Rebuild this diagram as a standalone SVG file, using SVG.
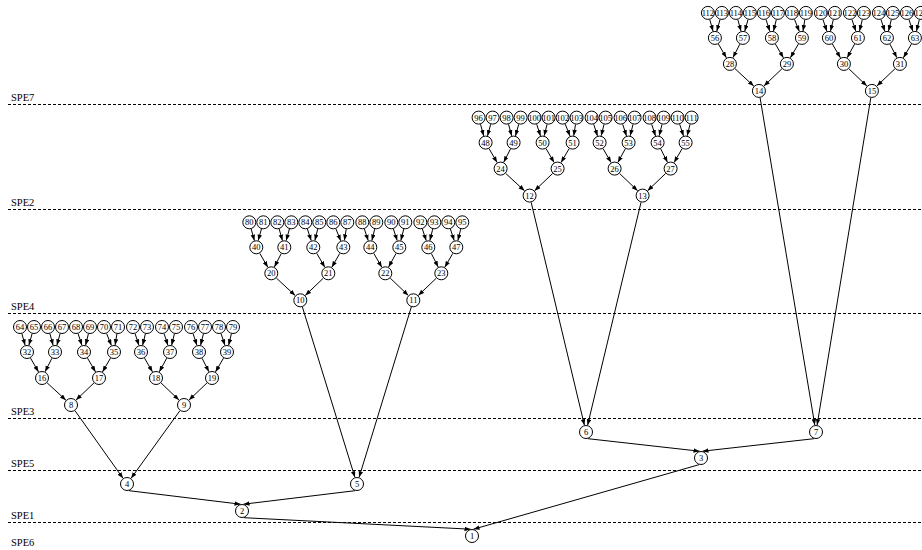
<svg xmlns="http://www.w3.org/2000/svg" width="922" height="550" viewBox="0 0 922 550">
<defs>
<marker id="ah" markerUnits="userSpaceOnUse" markerWidth="6" markerHeight="5" refX="6" refY="2.25" orient="auto"><path d="M0,0 L6,2.25 L0,4.5 z" fill="#000"/></marker>
<style>
.n circle{fill:#fff;stroke:#000;stroke-width:1}
.n text{font-family:"Liberation Serif",serif;font-size:8.5px;text-anchor:middle;fill:#000}
.e line{stroke:#000;stroke-width:1;marker-end:url(#ah)}
.sep line{stroke:#000;stroke-width:1;stroke-dasharray:3,2}
.lbl{font-family:"Liberation Serif",serif;font-size:10.5px;fill:#000}
</style>
</defs>
<rect width="922" height="550" fill="#fff"/>
<g class="sep">
<line x1="8" y1="104.5" x2="922" y2="104.5"/>
<line x1="8" y1="209.5" x2="922" y2="209.5"/>
<line x1="8" y1="313.5" x2="922" y2="313.5"/>
<line x1="8" y1="418.5" x2="922" y2="418.5"/>
<line x1="8" y1="470.5" x2="922" y2="470.5"/>
<line x1="8" y1="522.5" x2="922" y2="522.5"/>
</g>
<g id="labels">
<text class="lbl" x="11" y="101">SPE7</text>
<text class="lbl" x="11" y="206">SPE2</text>
<text class="lbl" x="11" y="310">SPE4</text>
<text class="lbl" x="11" y="415">SPE3</text>
<text class="lbl" x="11" y="467">SPE5</text>
<text class="lbl" x="11" y="519">SPE1</text>
<text class="lbl" x="11" y="546">SPE6</text>
</g>
<g id="connectors" class="e">
<g id="cl0">
<line x1="21.9" y1="333.7" x2="25.1" y2="345.3"/>
<line x1="32.1" y1="333.7" x2="28.9" y2="345.3"/>
<line x1="49.9" y1="333.7" x2="53.1" y2="345.3"/>
<line x1="60.1" y1="333.7" x2="56.9" y2="345.3"/>
<line x1="78.1" y1="333.7" x2="81.9" y2="345.3"/>
<line x1="88.4" y1="333.8" x2="85.6" y2="345.2"/>
<line x1="106.6" y1="333.5" x2="111.4" y2="345.5"/>
<line x1="116.9" y1="333.9" x2="115.1" y2="345.1"/>
<line x1="135.1" y1="333.7" x2="138.9" y2="345.3"/>
<line x1="145.4" y1="333.8" x2="142.6" y2="345.2"/>
<line x1="164.1" y1="333.7" x2="167.9" y2="345.3"/>
<line x1="174.4" y1="333.8" x2="171.6" y2="345.2"/>
<line x1="193.1" y1="333.7" x2="196.9" y2="345.3"/>
<line x1="203.4" y1="333.8" x2="200.6" y2="345.2"/>
<line x1="221.1" y1="333.7" x2="224.9" y2="345.3"/>
<line x1="231.4" y1="333.8" x2="228.6" y2="345.2"/>
<line x1="30.5" y1="358.1" x2="38.5" y2="371.9"/>
<line x1="51.9" y1="358.3" x2="45.1" y2="371.7"/>
<line x1="87.5" y1="358.1" x2="95.5" y2="371.9"/>
<line x1="110.5" y1="358.1" x2="102.5" y2="371.9"/>
<line x1="144.5" y1="358.1" x2="152.5" y2="371.9"/>
<line x1="166.7" y1="358.2" x2="159.3" y2="371.8"/>
<line x1="202.1" y1="358.3" x2="208.9" y2="371.7"/>
<line x1="223.5" y1="358.1" x2="215.5" y2="371.9"/>
<line x1="47.1" y1="382.8" x2="65.9" y2="400.2"/>
<line x1="94" y1="382.9" x2="76" y2="400.1"/>
<line x1="161" y1="382.9" x2="179" y2="400.1"/>
<line x1="207" y1="382.9" x2="189" y2="400.1"/>
</g>
<g id="cl1" transform="translate(229.3,-104.7)">
<line x1="21.9" y1="333.7" x2="25.1" y2="345.3"/>
<line x1="32.1" y1="333.7" x2="28.9" y2="345.3"/>
<line x1="49.9" y1="333.7" x2="53.1" y2="345.3"/>
<line x1="60.1" y1="333.7" x2="56.9" y2="345.3"/>
<line x1="78.1" y1="333.7" x2="81.9" y2="345.3"/>
<line x1="88.4" y1="333.8" x2="85.6" y2="345.2"/>
<line x1="106.6" y1="333.5" x2="111.4" y2="345.5"/>
<line x1="116.9" y1="333.9" x2="115.1" y2="345.1"/>
<line x1="135.1" y1="333.7" x2="138.9" y2="345.3"/>
<line x1="145.4" y1="333.8" x2="142.6" y2="345.2"/>
<line x1="164.1" y1="333.7" x2="167.9" y2="345.3"/>
<line x1="174.4" y1="333.8" x2="171.6" y2="345.2"/>
<line x1="193.1" y1="333.7" x2="196.9" y2="345.3"/>
<line x1="203.4" y1="333.8" x2="200.6" y2="345.2"/>
<line x1="221.1" y1="333.7" x2="224.9" y2="345.3"/>
<line x1="231.4" y1="333.8" x2="228.6" y2="345.2"/>
<line x1="30.5" y1="358.1" x2="38.5" y2="371.9"/>
<line x1="51.9" y1="358.3" x2="45.1" y2="371.7"/>
<line x1="87.5" y1="358.1" x2="95.5" y2="371.9"/>
<line x1="110.5" y1="358.1" x2="102.5" y2="371.9"/>
<line x1="144.5" y1="358.1" x2="152.5" y2="371.9"/>
<line x1="166.7" y1="358.2" x2="159.3" y2="371.8"/>
<line x1="202.1" y1="358.3" x2="208.9" y2="371.7"/>
<line x1="223.5" y1="358.1" x2="215.5" y2="371.9"/>
<line x1="47.1" y1="382.8" x2="65.9" y2="400.2"/>
<line x1="94" y1="382.9" x2="76" y2="400.1"/>
<line x1="161" y1="382.9" x2="179" y2="400.1"/>
<line x1="207" y1="382.9" x2="189" y2="400.1"/>
</g>
<g id="cl2" transform="translate(458.6,-209.4)">
<line x1="21.9" y1="333.7" x2="25.1" y2="345.3"/>
<line x1="32.1" y1="333.7" x2="28.9" y2="345.3"/>
<line x1="49.9" y1="333.7" x2="53.1" y2="345.3"/>
<line x1="60.1" y1="333.7" x2="56.9" y2="345.3"/>
<line x1="78.1" y1="333.7" x2="81.9" y2="345.3"/>
<line x1="88.4" y1="333.8" x2="85.6" y2="345.2"/>
<line x1="106.6" y1="333.5" x2="111.4" y2="345.5"/>
<line x1="116.9" y1="333.9" x2="115.1" y2="345.1"/>
<line x1="135.1" y1="333.7" x2="138.9" y2="345.3"/>
<line x1="145.4" y1="333.8" x2="142.6" y2="345.2"/>
<line x1="164.1" y1="333.7" x2="167.9" y2="345.3"/>
<line x1="174.4" y1="333.8" x2="171.6" y2="345.2"/>
<line x1="193.1" y1="333.7" x2="196.9" y2="345.3"/>
<line x1="203.4" y1="333.8" x2="200.6" y2="345.2"/>
<line x1="221.1" y1="333.7" x2="224.9" y2="345.3"/>
<line x1="231.4" y1="333.8" x2="228.6" y2="345.2"/>
<line x1="30.5" y1="358.1" x2="38.5" y2="371.9"/>
<line x1="51.9" y1="358.3" x2="45.1" y2="371.7"/>
<line x1="87.5" y1="358.1" x2="95.5" y2="371.9"/>
<line x1="110.5" y1="358.1" x2="102.5" y2="371.9"/>
<line x1="144.5" y1="358.1" x2="152.5" y2="371.9"/>
<line x1="166.7" y1="358.2" x2="159.3" y2="371.8"/>
<line x1="202.1" y1="358.3" x2="208.9" y2="371.7"/>
<line x1="223.5" y1="358.1" x2="215.5" y2="371.9"/>
<line x1="47.1" y1="382.8" x2="65.9" y2="400.2"/>
<line x1="94" y1="382.9" x2="76" y2="400.1"/>
<line x1="161" y1="382.9" x2="179" y2="400.1"/>
<line x1="207" y1="382.9" x2="189" y2="400.1"/>
</g>
<g id="cl3" transform="translate(687.9,-314.1)">
<line x1="21.9" y1="333.7" x2="25.1" y2="345.3"/>
<line x1="32.1" y1="333.7" x2="28.9" y2="345.3"/>
<line x1="49.9" y1="333.7" x2="53.1" y2="345.3"/>
<line x1="60.1" y1="333.7" x2="56.9" y2="345.3"/>
<line x1="78.1" y1="333.7" x2="81.9" y2="345.3"/>
<line x1="88.4" y1="333.8" x2="85.6" y2="345.2"/>
<line x1="106.6" y1="333.5" x2="111.4" y2="345.5"/>
<line x1="116.9" y1="333.9" x2="115.1" y2="345.1"/>
<line x1="135.1" y1="333.7" x2="138.9" y2="345.3"/>
<line x1="145.4" y1="333.8" x2="142.6" y2="345.2"/>
<line x1="164.1" y1="333.7" x2="167.9" y2="345.3"/>
<line x1="174.4" y1="333.8" x2="171.6" y2="345.2"/>
<line x1="193.1" y1="333.7" x2="196.9" y2="345.3"/>
<line x1="203.4" y1="333.8" x2="200.6" y2="345.2"/>
<line x1="221.1" y1="333.7" x2="224.9" y2="345.3"/>
<line x1="231.4" y1="333.8" x2="228.6" y2="345.2"/>
<line x1="30.5" y1="358.1" x2="38.5" y2="371.9"/>
<line x1="51.9" y1="358.3" x2="45.1" y2="371.7"/>
<line x1="87.5" y1="358.1" x2="95.5" y2="371.9"/>
<line x1="110.5" y1="358.1" x2="102.5" y2="371.9"/>
<line x1="144.5" y1="358.1" x2="152.5" y2="371.9"/>
<line x1="166.7" y1="358.2" x2="159.3" y2="371.8"/>
<line x1="202.1" y1="358.3" x2="208.9" y2="371.7"/>
<line x1="223.5" y1="358.1" x2="215.5" y2="371.9"/>
<line x1="47.1" y1="382.8" x2="65.9" y2="400.2"/>
<line x1="94" y1="382.9" x2="76" y2="400.1"/>
<line x1="161" y1="382.9" x2="179" y2="400.1"/>
<line x1="207" y1="382.9" x2="189" y2="400.1"/>
</g>
<g id="long">
<line x1="75" y1="410.7" x2="123" y2="478.3"/>
<line x1="179.9" y1="410.7" x2="131.1" y2="478.3"/>
<line x1="302.4" y1="307" x2="354.9" y2="477.3"/>
<line x1="411.3" y1="307" x2="359.1" y2="477.3"/>
<line x1="531.2" y1="202.4" x2="584.4" y2="425.2"/>
<line x1="641" y1="202.4" x2="587.6" y2="425.2"/>
<line x1="760.1" y1="97.8" x2="814.8" y2="425.1"/>
<line x1="870.8" y1="97.8" x2="817.1" y2="425.1"/>
<line x1="129" y1="490.7" x2="240.5" y2="504.2"/>
<line x1="355" y1="490.7" x2="243.5" y2="504.2"/>
<line x1="588" y1="438.7" x2="699.5" y2="451.2"/>
<line x1="814" y1="438.7" x2="702.5" y2="451.2"/>
<line x1="244" y1="517.7" x2="470.5" y2="529.2"/>
<line x1="699" y1="464.7" x2="473.5" y2="529.2"/>
</g>
</g>
<g id="nodes">
<g id="n64" class="n"><circle cx="20" cy="327" r="6.5"/><text x="20" y="330">64</text></g>
<g id="n65" class="n"><circle cx="34" cy="327" r="6.5"/><text x="34" y="330">65</text></g>
<g id="n66" class="n"><circle cx="48" cy="327" r="6.5"/><text x="48" y="330">66</text></g>
<g id="n67" class="n"><circle cx="62" cy="327" r="6.5"/><text x="62" y="330">67</text></g>
<g id="n68" class="n"><circle cx="76" cy="327" r="6.5"/><text x="76" y="330">68</text></g>
<g id="n69" class="n"><circle cx="90" cy="327" r="6.5"/><text x="90" y="330">69</text></g>
<g id="n70" class="n"><circle cx="104" cy="327" r="6.5"/><text x="104" y="330">70</text></g>
<g id="n71" class="n"><circle cx="118" cy="327" r="6.5"/><text x="118" y="330">71</text></g>
<g id="n72" class="n"><circle cx="133" cy="327" r="6.5"/><text x="133" y="330">72</text></g>
<g id="n73" class="n"><circle cx="147" cy="327" r="6.5"/><text x="147" y="330">73</text></g>
<g id="n74" class="n"><circle cx="162" cy="327" r="6.5"/><text x="162" y="330">74</text></g>
<g id="n75" class="n"><circle cx="176" cy="327" r="6.5"/><text x="176" y="330">75</text></g>
<g id="n76" class="n"><circle cx="191" cy="327" r="6.5"/><text x="191" y="330">76</text></g>
<g id="n77" class="n"><circle cx="205" cy="327" r="6.5"/><text x="205" y="330">77</text></g>
<g id="n78" class="n"><circle cx="219" cy="327" r="6.5"/><text x="219" y="330">78</text></g>
<g id="n79" class="n"><circle cx="233" cy="327" r="6.5"/><text x="233" y="330">79</text></g>
<g id="n32" class="n"><circle cx="27" cy="352" r="6.5"/><text x="27" y="355">32</text></g>
<g id="n33" class="n"><circle cx="55" cy="352" r="6.5"/><text x="55" y="355">33</text></g>
<g id="n34" class="n"><circle cx="84" cy="352" r="6.5"/><text x="84" y="355">34</text></g>
<g id="n35" class="n"><circle cx="114" cy="352" r="6.5"/><text x="114" y="355">35</text></g>
<g id="n36" class="n"><circle cx="141" cy="352" r="6.5"/><text x="141" y="355">36</text></g>
<g id="n37" class="n"><circle cx="170" cy="352" r="6.5"/><text x="170" y="355">37</text></g>
<g id="n38" class="n"><circle cx="199" cy="352" r="6.5"/><text x="199" y="355">38</text></g>
<g id="n39" class="n"><circle cx="227" cy="352" r="6.5"/><text x="227" y="355">39</text></g>
<g id="n16" class="n"><circle cx="42" cy="378" r="6.5"/><text x="42" y="381">16</text></g>
<g id="n17" class="n"><circle cx="99" cy="378" r="6.5"/><text x="99" y="381">17</text></g>
<g id="n18" class="n"><circle cx="156" cy="378" r="6.5"/><text x="156" y="381">18</text></g>
<g id="n19" class="n"><circle cx="212" cy="378" r="6.5"/><text x="212" y="381">19</text></g>
<g id="n8" class="n"><circle cx="71" cy="405" r="6.5"/><text x="71" y="408">8</text></g>
<g id="n9" class="n"><circle cx="184" cy="405" r="6.5"/><text x="184" y="408">9</text></g>
<g id="n80" class="n"><circle cx="249.3" cy="222.3" r="6.5"/><text x="249.3" y="225.3">80</text></g>
<g id="n81" class="n"><circle cx="263.3" cy="222.3" r="6.5"/><text x="263.3" y="225.3">81</text></g>
<g id="n82" class="n"><circle cx="277.3" cy="222.3" r="6.5"/><text x="277.3" y="225.3">82</text></g>
<g id="n83" class="n"><circle cx="291.3" cy="222.3" r="6.5"/><text x="291.3" y="225.3">83</text></g>
<g id="n84" class="n"><circle cx="305.3" cy="222.3" r="6.5"/><text x="305.3" y="225.3">84</text></g>
<g id="n85" class="n"><circle cx="319.3" cy="222.3" r="6.5"/><text x="319.3" y="225.3">85</text></g>
<g id="n86" class="n"><circle cx="333.3" cy="222.3" r="6.5"/><text x="333.3" y="225.3">86</text></g>
<g id="n87" class="n"><circle cx="347.3" cy="222.3" r="6.5"/><text x="347.3" y="225.3">87</text></g>
<g id="n88" class="n"><circle cx="362.3" cy="222.3" r="6.5"/><text x="362.3" y="225.3">88</text></g>
<g id="n89" class="n"><circle cx="376.3" cy="222.3" r="6.5"/><text x="376.3" y="225.3">89</text></g>
<g id="n90" class="n"><circle cx="391.3" cy="222.3" r="6.5"/><text x="391.3" y="225.3">90</text></g>
<g id="n91" class="n"><circle cx="405.3" cy="222.3" r="6.5"/><text x="405.3" y="225.3">91</text></g>
<g id="n92" class="n"><circle cx="420.3" cy="222.3" r="6.5"/><text x="420.3" y="225.3">92</text></g>
<g id="n93" class="n"><circle cx="434.3" cy="222.3" r="6.5"/><text x="434.3" y="225.3">93</text></g>
<g id="n94" class="n"><circle cx="448.3" cy="222.3" r="6.5"/><text x="448.3" y="225.3">94</text></g>
<g id="n95" class="n"><circle cx="462.3" cy="222.3" r="6.5"/><text x="462.3" y="225.3">95</text></g>
<g id="n40" class="n"><circle cx="256.3" cy="247.3" r="6.5"/><text x="256.3" y="250.3">40</text></g>
<g id="n41" class="n"><circle cx="284.3" cy="247.3" r="6.5"/><text x="284.3" y="250.3">41</text></g>
<g id="n42" class="n"><circle cx="313.3" cy="247.3" r="6.5"/><text x="313.3" y="250.3">42</text></g>
<g id="n43" class="n"><circle cx="343.3" cy="247.3" r="6.5"/><text x="343.3" y="250.3">43</text></g>
<g id="n44" class="n"><circle cx="370.3" cy="247.3" r="6.5"/><text x="370.3" y="250.3">44</text></g>
<g id="n45" class="n"><circle cx="399.3" cy="247.3" r="6.5"/><text x="399.3" y="250.3">45</text></g>
<g id="n46" class="n"><circle cx="428.3" cy="247.3" r="6.5"/><text x="428.3" y="250.3">46</text></g>
<g id="n47" class="n"><circle cx="456.3" cy="247.3" r="6.5"/><text x="456.3" y="250.3">47</text></g>
<g id="n20" class="n"><circle cx="271.3" cy="273.3" r="6.5"/><text x="271.3" y="276.3">20</text></g>
<g id="n21" class="n"><circle cx="328.3" cy="273.3" r="6.5"/><text x="328.3" y="276.3">21</text></g>
<g id="n22" class="n"><circle cx="385.3" cy="273.3" r="6.5"/><text x="385.3" y="276.3">22</text></g>
<g id="n23" class="n"><circle cx="441.3" cy="273.3" r="6.5"/><text x="441.3" y="276.3">23</text></g>
<g id="n10" class="n"><circle cx="300.3" cy="300.3" r="6.5"/><text x="300.3" y="303.3">10</text></g>
<g id="n11" class="n"><circle cx="413.3" cy="300.3" r="6.5"/><text x="413.3" y="303.3">11</text></g>
<g id="n96" class="n"><circle cx="478.6" cy="117.6" r="6.5"/><text x="478.6" y="120.6">96</text></g>
<g id="n97" class="n"><circle cx="492.6" cy="117.6" r="6.5"/><text x="492.6" y="120.6">97</text></g>
<g id="n98" class="n"><circle cx="506.6" cy="117.6" r="6.5"/><text x="506.6" y="120.6">98</text></g>
<g id="n99" class="n"><circle cx="520.6" cy="117.6" r="6.5"/><text x="520.6" y="120.6">99</text></g>
<g id="n100" class="n"><circle cx="534.6" cy="117.6" r="6.5"/><text x="534.6" y="120.6">100</text></g>
<g id="n101" class="n"><circle cx="548.6" cy="117.6" r="6.5"/><text x="548.6" y="120.6">101</text></g>
<g id="n102" class="n"><circle cx="562.6" cy="117.6" r="6.5"/><text x="562.6" y="120.6">102</text></g>
<g id="n103" class="n"><circle cx="576.6" cy="117.6" r="6.5"/><text x="576.6" y="120.6">103</text></g>
<g id="n104" class="n"><circle cx="591.6" cy="117.6" r="6.5"/><text x="591.6" y="120.6">104</text></g>
<g id="n105" class="n"><circle cx="605.6" cy="117.6" r="6.5"/><text x="605.6" y="120.6">105</text></g>
<g id="n106" class="n"><circle cx="620.6" cy="117.6" r="6.5"/><text x="620.6" y="120.6">106</text></g>
<g id="n107" class="n"><circle cx="634.6" cy="117.6" r="6.5"/><text x="634.6" y="120.6">107</text></g>
<g id="n108" class="n"><circle cx="649.6" cy="117.6" r="6.5"/><text x="649.6" y="120.6">108</text></g>
<g id="n109" class="n"><circle cx="663.6" cy="117.6" r="6.5"/><text x="663.6" y="120.6">109</text></g>
<g id="n110" class="n"><circle cx="677.6" cy="117.6" r="6.5"/><text x="677.6" y="120.6">110</text></g>
<g id="n111" class="n"><circle cx="691.6" cy="117.6" r="6.5"/><text x="691.6" y="120.6">111</text></g>
<g id="n48" class="n"><circle cx="485.6" cy="142.6" r="6.5"/><text x="485.6" y="145.6">48</text></g>
<g id="n49" class="n"><circle cx="513.6" cy="142.6" r="6.5"/><text x="513.6" y="145.6">49</text></g>
<g id="n50" class="n"><circle cx="542.6" cy="142.6" r="6.5"/><text x="542.6" y="145.6">50</text></g>
<g id="n51" class="n"><circle cx="572.6" cy="142.6" r="6.5"/><text x="572.6" y="145.6">51</text></g>
<g id="n52" class="n"><circle cx="599.6" cy="142.6" r="6.5"/><text x="599.6" y="145.6">52</text></g>
<g id="n53" class="n"><circle cx="628.6" cy="142.6" r="6.5"/><text x="628.6" y="145.6">53</text></g>
<g id="n54" class="n"><circle cx="657.6" cy="142.6" r="6.5"/><text x="657.6" y="145.6">54</text></g>
<g id="n55" class="n"><circle cx="685.6" cy="142.6" r="6.5"/><text x="685.6" y="145.6">55</text></g>
<g id="n24" class="n"><circle cx="500.6" cy="168.6" r="6.5"/><text x="500.6" y="171.6">24</text></g>
<g id="n25" class="n"><circle cx="557.6" cy="168.6" r="6.5"/><text x="557.6" y="171.6">25</text></g>
<g id="n26" class="n"><circle cx="614.6" cy="168.6" r="6.5"/><text x="614.6" y="171.6">26</text></g>
<g id="n27" class="n"><circle cx="670.6" cy="168.6" r="6.5"/><text x="670.6" y="171.6">27</text></g>
<g id="n12" class="n"><circle cx="529.6" cy="195.6" r="6.5"/><text x="529.6" y="198.6">12</text></g>
<g id="n13" class="n"><circle cx="642.6" cy="195.6" r="6.5"/><text x="642.6" y="198.6">13</text></g>
<g id="n112" class="n"><circle cx="707.9" cy="12.9" r="6.5"/><text x="707.9" y="15.9">112</text></g>
<g id="n113" class="n"><circle cx="721.9" cy="12.9" r="6.5"/><text x="721.9" y="15.9">113</text></g>
<g id="n114" class="n"><circle cx="735.9" cy="12.9" r="6.5"/><text x="735.9" y="15.9">114</text></g>
<g id="n115" class="n"><circle cx="749.9" cy="12.9" r="6.5"/><text x="749.9" y="15.9">115</text></g>
<g id="n116" class="n"><circle cx="763.9" cy="12.9" r="6.5"/><text x="763.9" y="15.9">116</text></g>
<g id="n117" class="n"><circle cx="777.9" cy="12.9" r="6.5"/><text x="777.9" y="15.9">117</text></g>
<g id="n118" class="n"><circle cx="791.9" cy="12.9" r="6.5"/><text x="791.9" y="15.9">118</text></g>
<g id="n119" class="n"><circle cx="805.9" cy="12.9" r="6.5"/><text x="805.9" y="15.9">119</text></g>
<g id="n120" class="n"><circle cx="820.9" cy="12.9" r="6.5"/><text x="820.9" y="15.9">120</text></g>
<g id="n121" class="n"><circle cx="834.9" cy="12.9" r="6.5"/><text x="834.9" y="15.9">121</text></g>
<g id="n122" class="n"><circle cx="849.9" cy="12.9" r="6.5"/><text x="849.9" y="15.9">122</text></g>
<g id="n123" class="n"><circle cx="863.9" cy="12.9" r="6.5"/><text x="863.9" y="15.9">123</text></g>
<g id="n124" class="n"><circle cx="878.9" cy="12.9" r="6.5"/><text x="878.9" y="15.9">124</text></g>
<g id="n125" class="n"><circle cx="892.9" cy="12.9" r="6.5"/><text x="892.9" y="15.9">125</text></g>
<g id="n126" class="n"><circle cx="906.9" cy="12.9" r="6.5"/><text x="906.9" y="15.9">126</text></g>
<g id="n127" class="n"><circle cx="920.9" cy="12.9" r="6.5"/><text x="920.9" y="15.9">127</text></g>
<g id="n56" class="n"><circle cx="714.9" cy="37.9" r="6.5"/><text x="714.9" y="40.9">56</text></g>
<g id="n57" class="n"><circle cx="742.9" cy="37.9" r="6.5"/><text x="742.9" y="40.9">57</text></g>
<g id="n58" class="n"><circle cx="771.9" cy="37.9" r="6.5"/><text x="771.9" y="40.9">58</text></g>
<g id="n59" class="n"><circle cx="801.9" cy="37.9" r="6.5"/><text x="801.9" y="40.9">59</text></g>
<g id="n60" class="n"><circle cx="828.9" cy="37.9" r="6.5"/><text x="828.9" y="40.9">60</text></g>
<g id="n61" class="n"><circle cx="857.9" cy="37.9" r="6.5"/><text x="857.9" y="40.9">61</text></g>
<g id="n62" class="n"><circle cx="886.9" cy="37.9" r="6.5"/><text x="886.9" y="40.9">62</text></g>
<g id="n63" class="n"><circle cx="914.9" cy="37.9" r="6.5"/><text x="914.9" y="40.9">63</text></g>
<g id="n28" class="n"><circle cx="729.9" cy="63.9" r="6.5"/><text x="729.9" y="66.9">28</text></g>
<g id="n29" class="n"><circle cx="786.9" cy="63.9" r="6.5"/><text x="786.9" y="66.9">29</text></g>
<g id="n30" class="n"><circle cx="843.9" cy="63.9" r="6.5"/><text x="843.9" y="66.9">30</text></g>
<g id="n31" class="n"><circle cx="899.9" cy="63.9" r="6.5"/><text x="899.9" y="66.9">31</text></g>
<g id="n14" class="n"><circle cx="758.9" cy="90.9" r="6.5"/><text x="758.9" y="93.9">14</text></g>
<g id="n15" class="n"><circle cx="871.9" cy="90.9" r="6.5"/><text x="871.9" y="93.9">15</text></g>
<g id="n4" class="n"><circle cx="127" cy="484" r="6.5"/><text x="127" y="487">4</text></g>
<g id="n5" class="n"><circle cx="357" cy="484" r="6.5"/><text x="357" y="487">5</text></g>
<g id="n2" class="n"><circle cx="242" cy="511" r="6.5"/><text x="242" y="514">2</text></g>
<g id="n6" class="n"><circle cx="586" cy="432" r="6.5"/><text x="586" y="435">6</text></g>
<g id="n7" class="n"><circle cx="816" cy="432" r="6.5"/><text x="816" y="435">7</text></g>
<g id="n3" class="n"><circle cx="701" cy="458" r="6.5"/><text x="701" y="461">3</text></g>
<g id="n1" class="n"><circle cx="472" cy="536" r="6.5"/><text x="472" y="539">1</text></g>
</g>
</svg>
